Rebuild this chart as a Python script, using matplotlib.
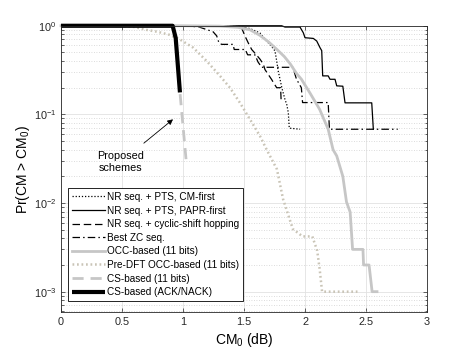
import matplotlib
matplotlib.use('Agg')
import matplotlib.pyplot as plt
from matplotlib.ticker import LogLocator, NullFormatter

plt.rcParams['font.family'] = ['Liberation Sans', 'DejaVu Sans']
plt.rcParams['mathtext.fontset'] = 'custom'
plt.rcParams['mathtext.rm'] = 'Liberation Sans'
plt.rcParams['mathtext.it'] = 'Liberation Sans:italic'
plt.rcParams['mathtext.default'] = 'regular'

# ---- data (x: CM0 in dB, y: Pr(CM > CM0)) ----
cm_first_x = [0, 1.40, 1.47, 1.55, 1.63, 1.686, 1.72, 1.754, 1.768, 1.78, 1.795, 1.81, 1.836, 1.85, 1.863, 1.871, 1.96]
cm_first_y = [1, 1.0, 0.97, 0.93, 0.83, 0.67, 0.60, 0.52, 0.40, 0.31, 0.25, 0.20, 0.147, 0.13, 0.105, 0.070, 0.068]

papr_first_x = [0, 1.809, 1.836, 1.959, 1.986, 2.0, 2.068, 2.096, 2.123, 2.137, 2.145, 2.19, 2.205, 2.246, 2.26, 2.31, 2.328, 2.547, 2.56]
papr_first_y = [1, 1.0, 0.967, 0.967, 0.834, 0.733, 0.72, 0.673, 0.566, 0.524, 0.272, 0.272, 0.249, 0.249, 0.21, 0.208, 0.135, 0.135, 0.068]

cs_hop_x = [0, 1.38, 1.45, 1.48, 1.508, 1.535, 1.563, 1.598, 1.631, 1.658, 1.672, 1.727, 1.74, 1.768, 1.80, 1.805]
cs_hop_y = [1, 1.0, 0.98, 0.95, 0.766, 0.64, 0.54, 0.476, 0.42, 0.37, 0.32, 0.247, 0.23, 0.20, 0.20, 0.136]

zc_x = [0, 1.00, 1.13, 1.246, 1.276, 1.295, 1.317, 1.41, 1.42, 1.51, 1.53, 1.59, 1.615, 1.645, 1.90, 1.93, 1.97, 1.98, 2.19, 2.20, 2.76]
zc_y = [1, 1.0, 0.97, 0.857, 0.77, 0.64, 0.617, 0.617, 0.54, 0.54, 0.47, 0.47, 0.39, 0.34, 0.34, 0.25, 0.20, 0.136, 0.136, 0.068, 0.068]

occ_x = [0, 1.0, 1.3, 1.45, 1.55, 1.63, 1.70, 1.77, 1.83, 1.88, 1.93, 1.97, 2.04, 2.12, 2.19, 2.23, 2.26, 2.31, 2.34, 2.37, 2.39, 2.475, 2.48, 2.525, 2.55, 2.59]
occ_y = [1, 1.0, 0.99, 0.96, 0.90, 0.78, 0.66, 0.54, 0.45, 0.37, 0.29, 0.25, 0.175, 0.114, 0.068, 0.040, 0.034, 0.020, 0.0103, 0.0079, 0.003, 0.003, 0.002, 0.002, 0.001, 0.001]

predft_x = [0, 0.45, 0.6, 0.70, 0.80, 0.89, 0.975, 1.084, 1.194, 1.303, 1.385, 1.467, 1.549, 1.631, 1.686, 1.77, 1.82, 1.90, 1.98, 2.06, 2.10, 2.12, 2.14, 2.43]
predft_y = [1, 1.0, 0.97, 0.90, 0.85, 0.79, 0.70, 0.566, 0.40, 0.272, 0.20, 0.135, 0.088, 0.057, 0.040, 0.024, 0.0111, 0.0051, 0.0042, 0.0042, 0.0029, 0.0018, 0.001, 0.001]

cs11_x = [0, 0.915, 0.94, 0.975, 1.025]
cs11_y = [1, 1.0, 0.73, 0.177, 0.031]

csack_x = [0, 0.915, 0.94, 0.975]
csack_y = [1, 1.0, 0.73, 0.177]

labels = ['NR seq. + PTS, CM-first', 'NR seq. + PTS, PAPR-first',
          'NR seq. + cyclic-shift hopping', 'Best ZC seq.',
          'OCC-based (11 bits)', 'Pre-DFT OCC-based (11 bits)',
          'CS-based (11 bits)', 'CS-based (ACK/NACK)']

xticks = [0, 0.5, 1, 1.5, 2, 2.5, 3]
xticklabels = ['0', '0.5', '1', '1.5', '2', '2.5', '3']

light = '#c6c6c6'
beige = '#c9c4b6'

fig = plt.figure(figsize=(4.71, 3.53), dpi=100)
ax = fig.add_axes([0.1295, 0.116, 0.7771, 0.811])

kw = dict(clip_on=False)
ax.plot(cm_first_x, cm_first_y, color='black', lw=0.9, ls=(0, (1, 1.5)), label=labels[0], **kw)
ax.plot(papr_first_x, papr_first_y, color='black', lw=0.9, ls='-', label=labels[1], **kw)
ax.plot(cs_hop_x, cs_hop_y, color='black', lw=0.9, ls=(0, (6, 3)), label=labels[2], **kw)
ax.plot(zc_x, zc_y, color='black', lw=0.9, ls=(0, (6, 2.5, 1.2, 2.5)), label=labels[3], **kw)
ax.plot(occ_x, occ_y, color=light, lw=2.0, ls='-', label=labels[4], **kw)
ax.plot(predft_x, predft_y, color=beige, lw=1.8, ls=(0, (0.7, 1.1)), label=labels[5], **kw)
ax.plot(cs11_x, cs11_y, color=light, lw=2.0, ls=(0, (4, 2.5)), label=labels[6], **kw)
ax.plot(csack_x, csack_y, color='black', lw=3.0, ls='-', solid_capstyle='butt', label=labels[7], **kw)

ax.set_yscale('log')
ax.set_xlim(0, 3)
ax.set_ylim(10 ** -3.23, 1)
ax.set_xticks(xticks, xticklabels)
ax.yaxis.set_major_locator(LogLocator(base=10, numticks=10))
ax.yaxis.set_minor_locator(LogLocator(base=10, subs=range(2, 10), numticks=20))
ax.yaxis.set_minor_formatter(NullFormatter())

ax.grid(True, which='major', color='#e2e2e2', lw=0.6, ls='-')
ax.grid(True, which='minor', axis='y', color='#d0d0d0', lw=0.6, ls=(0, (1, 2)))
ax.set_axisbelow(True)

ax.tick_params(which='both', direction='in', top=True, right=True, labelsize=7.8, colors='#262626')
ax.tick_params(which='major', length=3, width=0.5)
ax.tick_params(which='minor', length=1.8, width=0.5)
for s in ax.spines.values():
    s.set_linewidth(0.6)
    s.set_color('#262626')

ax.set_xlabel('CM$_0$ (dB)', fontsize=10, labelpad=3)
ax.set_ylabel('Pr(CM > CM$_0$)', fontsize=10, labelpad=1)

ax.annotate('Proposed\nschemes', xy=(0.918, 0.088), xytext=(0.49, 0.029),
            fontsize=7.8, ha='center', va='center', linespacing=1.2,
            arrowprops=dict(arrowstyle='-|>', color='black', lw=0.6,
                            mutation_scale=8, shrinkA=6, shrinkB=0))

leg = ax.legend(loc='lower left', bbox_to_anchor=(0.02, 0.04), fontsize=7.2,
                frameon=True, fancybox=False, framealpha=1, edgecolor='black',
                handlelength=3.3, handletextpad=0.25, labelspacing=0.36,
                borderpad=0.35, borderaxespad=0)
leg.get_frame().set_linewidth(0.6)

fig.savefig('out.png', dpi=100, facecolor='white')
